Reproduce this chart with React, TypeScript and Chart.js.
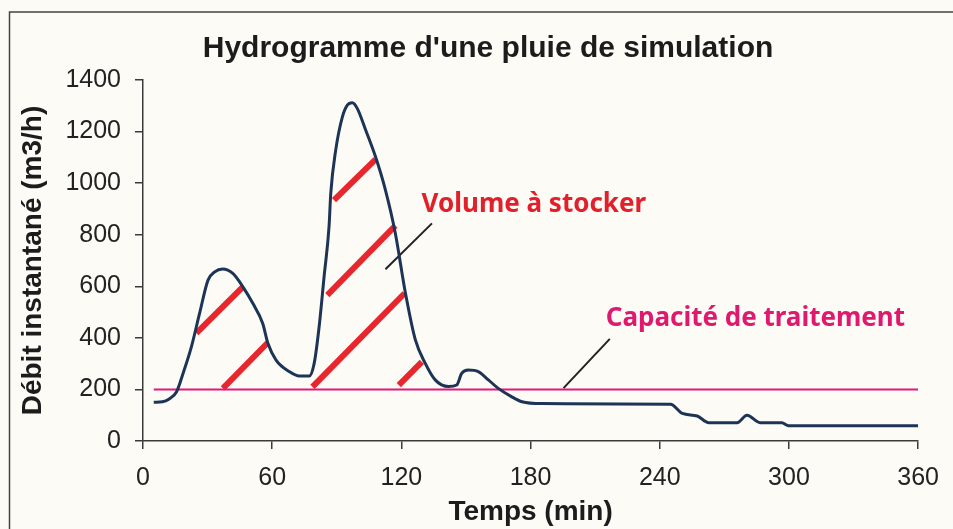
import React, { useEffect, useRef } from "react";
import { Chart, registerables } from "chart.js";

Chart.register(...registerables);

// ---- Data ----
const timeMin = [
  5, 9, 12, 15.6, 18.6, 22.5, 26.3, 30.2, 33.3, 37, 41.7, 46.4, 51, 55.6, 58, 61.8, 68, 72.6, 77.2,
  79.5, 81.8, 84.1, 86.4, 87.2, 89.5, 92.6, 94.9, 97.2, 99.5, 103.4, 108, 112.6, 117.2, 121.9,
  126.5, 131.1, 135.7, 141.9, 145.7, 148, 151.1, 155.7, 160.4, 165, 171.1, 176, 185, 245, 250.5,
  257.4, 262.8, 275.9, 280.5, 286.6, 296.7, 299.8, 360,
];
const flowM3h = [
  150, 152, 162, 191, 262, 366, 496, 624, 656, 667, 650, 598, 534, 456, 379, 314, 269, 252, 252,
  301, 443, 637, 831, 960, 1128, 1257, 1303, 1312, 1290, 1206, 1102, 973, 805, 573,
  392, 301, 237, 211, 217, 262, 275, 269, 237, 204, 172, 152, 145, 143, 107,
  97, 71, 71, 100, 71, 71, 59, 59,
];

const capacityX = [5, 360];
const capacityY = [200, 200];

const hatchX0 = [24.8, 37.1, 88.7, 85.6, 78.7, 118.8];
const hatchY0 = [418, 204, 934, 566, 210, 217];
const hatchX1 = [46.4, 57.9, 108, 117.2, 121.5, 129.5];
const hatchY1 = [598, 381, 1092, 835, 573, 307];

const pointerX0 = [112.6, 195.3];
const pointerY0 = [666, 205];
const pointerX1 = [134.2, 216.8];
const pointerY1 = [844, 396];

const noteText = ["Volume à stocker", "Capacité de traitement"];
const noteX = [129.4, 214.9];
const noteY = [888, 446];
const noteColor = ["#e2202c", "#df1a6e"];

const titleText = "Hydrogramme d'une pluie de simulation";
const xTitle = "Temps (min)";
const yTitle = "Débit instantané (m3/h)";
const xMax = 360;
const xStep = 60;
const yMax = 1400;
const yStep = 200;

const BG = "#fcfbf5";
const AXIS = "#3a3a3a";
const SANS = "'Liberation Sans', Arial, sans-serif";

export default function App() {
  const ref = useRef<HTMLCanvasElement | null>(null);

  useEffect(() => {
    if (!ref.current) return;
    const main = timeMin.map((x, i) => ({ x, y: flowM3h[i] }));
    const cap = capacityX.map((x, i) => ({ x, y: capacityY[i] }));
    const hatches = hatchX0.map((_, i) => ({
      type: "line" as const,
      data: [
        { x: hatchX0[i], y: hatchY0[i] },
        { x: hatchX1[i], y: hatchY1[i] },
      ],
      borderColor: "#e8262d",
      borderWidth: 6,
      borderCapStyle: "butt" as const,
      pointRadius: 0,
      tension: 0,
      order: 5,
    }));
    const pointers = pointerX0.map((_, i) => ({
      type: "line" as const,
      data: [
        { x: pointerX0[i], y: pointerY0[i] },
        { x: pointerX1[i], y: pointerY1[i] },
      ],
      borderColor: "#222",
      borderWidth: 2,
      pointRadius: 0,
      tension: 0,
      order: 4,
    }));

    const deco = {
      id: "deco",
      beforeDraw(chart: any) {
        const c = chart.ctx;
        c.save();
        c.fillStyle = BG;
        c.fillRect(0, 0, chart.width, chart.height);
        c.strokeStyle = "#444";
        c.lineWidth = 1.5;
        c.beginPath();
        c.moveTo(9.5, chart.height + 2);
        c.lineTo(9.5, 12);
        c.lineTo(chart.width + 2, 12);
        c.stroke();
        c.restore();
      },
      afterDraw(chart: any) {
        const c = chart.ctx;
        const xs = chart.scales.x;
        const ys = chart.scales.y;
        c.save();
        c.fillStyle = "#1c1c1c";
        c.font = "bold 30px " + SANS;
        c.textAlign = "center";
        c.textBaseline = "middle";
        c.fillText(titleText, 488, 49);
        c.textAlign = "left";
        c.textBaseline = "alphabetic";
        c.font = "bold 26px 'Noto Sans', sans-serif";
        noteText.forEach((t, i) => {
          c.fillStyle = noteColor[i];
          c.fillText(t, xs.getPixelForValue(noteX[i]), ys.getPixelForValue(noteY[i]));
        });
        c.restore();
      },
    };

    const chart = new Chart(ref.current, {
      type: "line",
      data: {
        datasets: [
          {
            data: main,
            borderColor: "#1d3456",
            borderWidth: 3,
            pointRadius: 0,
            cubicInterpolationMode: "monotone",
            order: 1,
          },
          {
            data: cap,
            borderColor: "#e0197a",
            borderWidth: 2,
            pointRadius: 0,
            order: 3,
          },
          ...hatches,
          ...pointers,
        ] as any,
      },
      options: {
        animation: false,
        responsive: false,
        maintainAspectRatio: false,
        layout: { padding: { left: 0, right: 31, top: 80, bottom: 0 } },
        plugins: {
          legend: { display: false },
          tooltip: { enabled: false },
          title: { display: false },
        },
        scales: {
          x: {
            type: "linear",
            min: 0,
            max: xMax,
            afterFit: (s: any) => {
              s.height = 88;
            },
            ticks: {
              stepSize: xStep,
              color: "#222",
              padding: 14,
              callback: (v: any) => String(v),
              font: { family: SANS, size: 25 },
            },
            grid: {
              drawOnChartArea: false,
              drawTicks: true,
              tickLength: 8,
              color: AXIS,
              lineWidth: 1.5,
            },
            border: { color: AXIS, width: 1.5 },
            title: {
              display: true,
              text: xTitle,
              color: "#1c1c1c",
              padding: { top: 5, bottom: 0 },
              font: { family: SANS, size: 28, weight: "bold" },
            },
          },
          y: {
            type: "linear",
            min: 0,
            max: yMax,
            afterFit: (s: any) => {
              s.width = 143;
            },
            ticks: {
              stepSize: yStep,
              color: "#222",
              padding: 14,
              callback: (v: any) => String(v),
              font: { family: SANS, size: 25 },
            },
            grid: {
              drawOnChartArea: false,
              drawTicks: true,
              tickLength: 8,
              color: AXIS,
              lineWidth: 1.5,
            },
            border: { color: AXIS, width: 1.5 },
            title: {
              display: true,
              text: yTitle,
              color: "#1c1c1c",
              padding: { top: 16, bottom: 0 },
              font: { family: SANS, size: 28, weight: "bold" },
            },
          },
        },
      },
      plugins: [deco],
    } as any);
    return () => chart.destroy();
  }, []);

  return (
    <div style={{ position: "fixed", left: 0, top: 0, width: 953, height: 529, background: BG }}>
      <canvas ref={ref} width={953} height={529} style={{ display: "block" }} />
    </div>
  );
}
